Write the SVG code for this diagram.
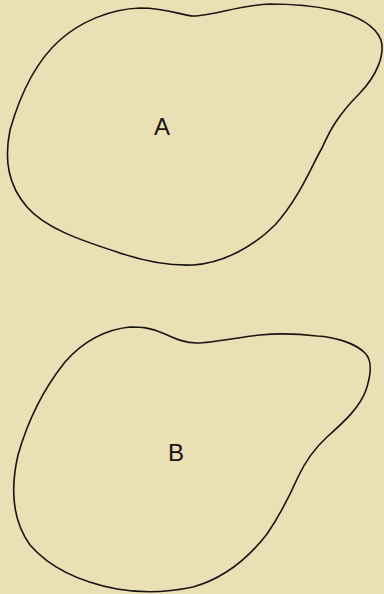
<svg xmlns="http://www.w3.org/2000/svg" width="384" height="594" viewBox="0 0 384 594">
<style>
.blob{fill:none;stroke:#1a1410;stroke-width:1.6;stroke-linejoin:round}
.lbl{font-family:"Liberation Sans","DejaVu Sans",sans-serif;font-size:24px;fill:#1a1410;text-anchor:middle}
</style>
<rect width="384" height="594" fill="#ebdfb6"/>
<g id="shapeA">
<path class="blob" d="M193,16 C184,16 168,8 140,8 C110,9 80,22 60,40 C35,62 20,95 10,130 C4,160 8,185 27,207 C45,228 80,240 117,252 C140,260 165,266 193,265 C225,263 255,245 275,225 C300,197 312,165 322,148 C330,130 338,115 360,93 C377,75 385,55 381,40 C374,23 355,15 333,10 C310,5 290,4 270,4 C240,5 212,16 193,16 Z"/>
<text class="lbl" x="162" y="135">A</text>
</g>
<g id="shapeB">
<path class="blob" d="M197,343 C185,343 176,339 165,334 C150,327 140,327 130,327 C100,330 80,345 65,362 C45,387 28,420 18,455 C10,490 12,520 30,545 C50,568 80,582 117,589 C140,593 165,593 193,587 C225,578 250,556 267,534 C280,515 290,495 298,477 C305,462 315,448 327,437 C345,421 360,407 366,390 C372,372 372,360 365,353 C355,343 335,337 317,336 C300,334 280,333 260,335 C240,337 212,343 197,343 Z"/>
<text class="lbl" x="176" y="461">B</text>
</g>
</svg>
